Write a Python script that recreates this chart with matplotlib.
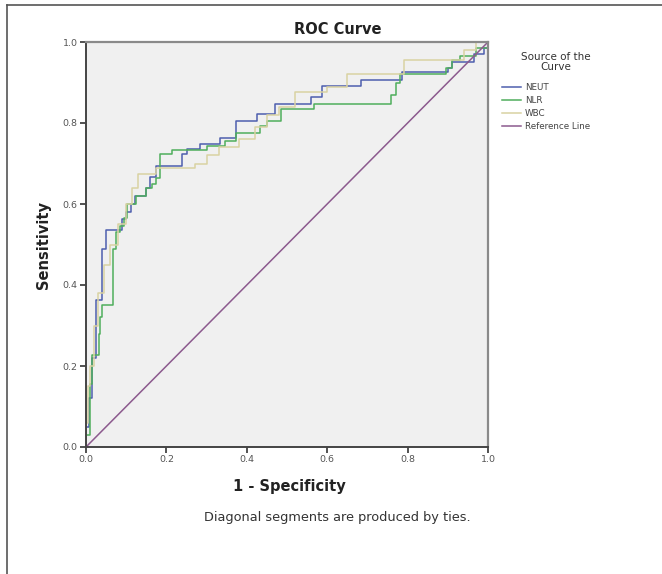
import matplotlib
matplotlib.use("Agg")
import matplotlib.pyplot as plt
from matplotlib.lines import Line2D

# ---- data ----
series_names = ["NEUT", "NLR", "WBC", "Reference Line"]

neut_fpr = [0.0, 0.0, 0.008, 0.016, 0.025, 0.040, 0.050, 0.090, 0.100, 0.112, 0.122, 0.150, 0.160,
            0.175, 0.239, 0.250, 0.284, 0.334, 0.372, 0.426, 0.471, 0.560, 0.587, 0.685, 0.785,
            0.900, 0.910, 0.965, 0.990, 1.0]
neut_tpr = [0.0, 0.05, 0.12, 0.22, 0.364, 0.490, 0.535, 0.563, 0.580, 0.600, 0.620, 0.640, 0.667,
            0.694, 0.723, 0.737, 0.749, 0.762, 0.805, 0.822, 0.847, 0.865, 0.892, 0.905, 0.925,
            0.935, 0.950, 0.970, 0.985, 1.0]

nlr_fpr = [0.0, 0.0, 0.010, 0.015, 0.032, 0.036, 0.040, 0.068, 0.075, 0.085, 0.095, 0.102, 0.125,
           0.150, 0.165, 0.175, 0.185, 0.214, 0.300, 0.345, 0.372, 0.434, 0.450, 0.484, 0.566,
           0.758, 0.770, 0.780, 0.895, 0.910, 0.930, 0.970, 1.0]
nlr_tpr = [0.0, 0.03, 0.155, 0.228, 0.280, 0.320, 0.350, 0.490, 0.530, 0.545, 0.565, 0.600, 0.620,
           0.640, 0.650, 0.665, 0.723, 0.733, 0.743, 0.755, 0.776, 0.792, 0.805, 0.835, 0.847,
           0.870, 0.900, 0.920, 0.935, 0.955, 0.965, 0.985, 1.0]

wbc_fpr = [0.0, 0.0, 0.005, 0.010, 0.020, 0.030, 0.045, 0.060, 0.080, 0.100, 0.115, 0.130, 0.175,
           0.270, 0.300, 0.330, 0.380, 0.420, 0.450, 0.480, 0.520, 0.600, 0.650, 0.790, 0.940,
           0.970, 1.0]
wbc_tpr = [0.0, 0.06, 0.15, 0.20, 0.30, 0.38, 0.45, 0.50, 0.55, 0.60, 0.64, 0.675, 0.69,
           0.70, 0.72, 0.74, 0.76, 0.79, 0.82, 0.84, 0.876, 0.89, 0.92, 0.955, 0.98,
           1.0, 1.0]

ref_x = [0.0, 1.0]
ref_y = [0.0, 1.0]

ticks = [0.0, 0.2, 0.4, 0.6, 0.8, 1.0]
tick_labels = ["0.0", "0.2", "0.4", "0.6", "0.8", "1.0"]

colors = ["#4E5FAE", "#4FAE5C", "#D9D2A2", "#8C5A8E"]

# ---- figure ----
W, H = 662, 574
fig = plt.figure(figsize=(W / 100, H / 100), dpi=100)
fig.patch.set_facecolor("white")

# outer border (top and left)
fig.add_artist(Line2D([7 / W, 7 / W], [0, 1 - 5 / H], transform=fig.transFigure,
                      color="#555555", lw=1.2))
fig.add_artist(Line2D([7 / W, 1], [1 - 5 / H, 1 - 5 / H], transform=fig.transFigure,
                      color="#555555", lw=1.2))

left, right, top, bottom = 86, 488, 42, 447
ax = fig.add_axes([left / W, 1 - bottom / H, (right - left) / W, (bottom - top) / H])
ax.set_facecolor("#F0F0F0")

ax.step(neut_fpr, neut_tpr, where="post", color=colors[0], lw=1.1, label=series_names[0])
ax.step(nlr_fpr, nlr_tpr, where="post", color=colors[1], lw=1.1, label=series_names[1])
ax.step(wbc_fpr, wbc_tpr, where="post", color=colors[2], lw=1.1, label=series_names[2])
ax.plot(ref_x, ref_y, color=colors[3], lw=1.1, label=series_names[3])

ax.set_xlim(0, 1)
ax.set_ylim(0, 1)
ax.set_xticks(ticks)
ax.set_xticklabels(tick_labels)
ax.set_yticks(ticks)
ax.set_yticklabels(tick_labels)
ax.tick_params(axis="both", direction="out", length=4, width=1.2, color="#333333",
               labelsize=6.8, labelcolor="#555555", pad=2)
for side in ["left", "bottom"]:
    ax.spines[side].set_color("#444444")
    ax.spines[side].set_linewidth(1.4)
for side in ["top", "right"]:
    ax.spines[side].set_color("#8A8A8A")
    ax.spines[side].set_linewidth(1.6)

# texts
fig.text(338 / W, 1 - 29 / H, "ROC Curve", ha="center", va="center",
         fontsize=10.5, fontweight="bold", color="#222222")
fig.text(289 / W, 1 - 487 / H, "1 - Specificity", ha="center", va="center",
         fontsize=10.5, fontweight="bold", color="#222222")
fig.text(43 / W, 1 - 245 / H, "Sensitivity", ha="center", va="center", rotation=90,
         fontsize=10.5, fontweight="bold", color="#222222")
fig.text(337 / W, 1 - 517 / H, "Diagonal segments are produced by ties.", ha="center",
         va="center", fontsize=9.3, color="#333333")

# legend title + entries
fig.text(556 / W, 1 - 62 / H, "Source of the\nCurve", ha="center", va="center",
         fontsize=7.5, color="#333333", multialignment="center", linespacing=1.05)
leg = ax.legend(loc="upper left", bbox_to_anchor=(502 / W, 1 - 83 / H),
                bbox_transform=fig.transFigure, frameon=False, fontsize=6.3,
                borderaxespad=0, borderpad=0, handlelength=2.2, handletextpad=0.4,
                labelspacing=0.45)
for t in leg.get_texts():
    t.set_color("#444444")

fig.savefig("out.png", dpi=100)
